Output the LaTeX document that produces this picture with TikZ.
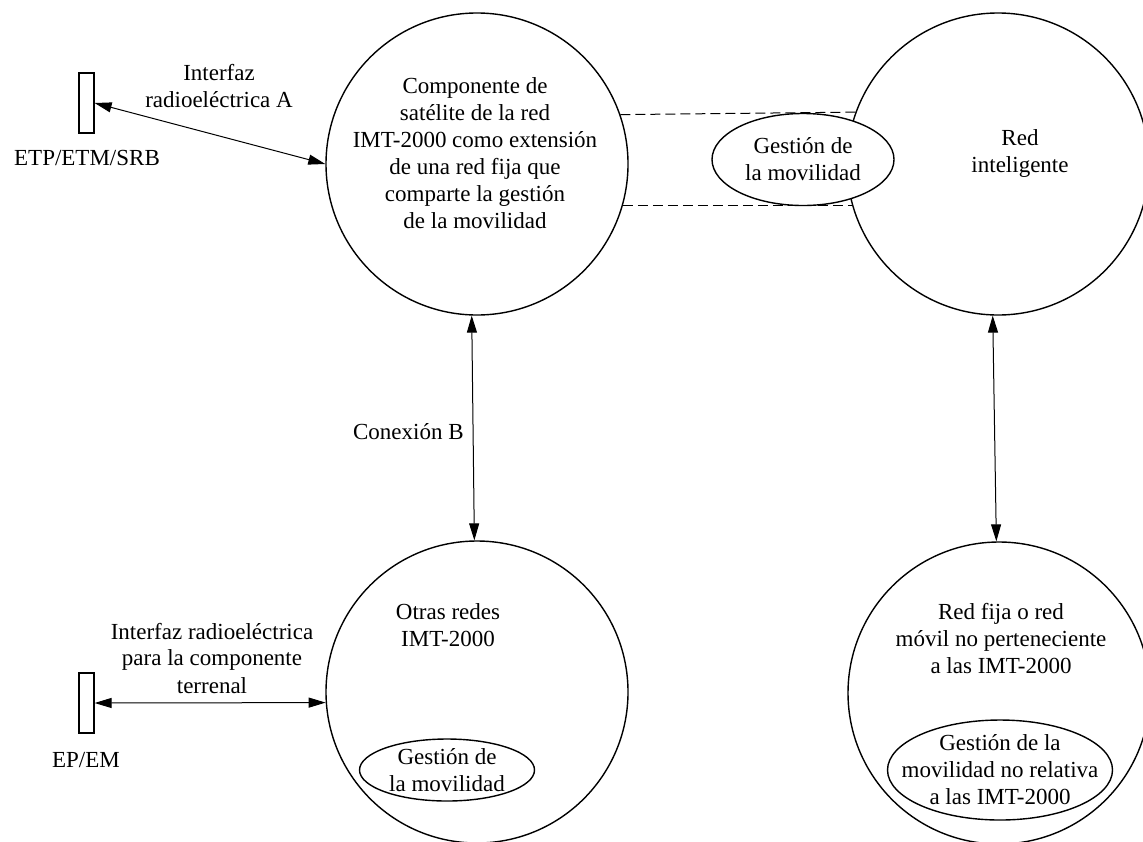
\documentclass[tikz,border=0pt]{standalone}
\usepackage{fontspec}
\setmainfont{Liberation Serif}
\usetikzlibrary{arrows.meta,shapes.geometric}
\begin{document}
\begin{tikzpicture}[x=0.5pt,y=-0.5pt,
  txt/.style={align=center, font=\fontsize{11.5}{13.5}\selectfont, inner sep=0pt},
  bigc/.style={draw, circle, minimum size=151pt, line width=0.7pt, inner sep=0pt},
  ell/.style={draw, ellipse, fill=white, line width=0.7pt, inner sep=0pt},
  term/.style={draw, rectangle, minimum width=7.5pt, minimum height=30pt, line width=0.6pt, inner sep=0pt},
  link/.style={{Triangle[length=8.5pt,width=5pt]}-{Triangle[length=8.5pt,width=5pt]}, line width=0.5pt},
  dashline/.style={dash pattern=on 5pt off 2.5pt, line width=0.5pt}
  ]
\useasboundingbox (0,0) rectangle (1143,841);
\clip (0,0) rectangle (1143,841);
% circles
\node[bigc] (c1) at (477,164) {};
\node[bigc] (c2) at (998,164) {};
\node[bigc] (c3) at (477,692) {};
\node[bigc] (c4) at (999,693) {};
% dashed links
\draw[dashline] (c1.19.7) -- (c2.160.3);
\draw[dashline] (c1.-16.2) -- (c2.196.2);
% ellipses (white filled, over the circles)
\node[ell, minimum width=91pt, minimum height=46pt] (e1) at (803,159.5) {};
\node[ell, minimum width=87.5pt, minimum height=31pt] (e3) at (447,770) {};
\node[ell, minimum width=112.5pt, minimum height=50pt] (e4) at (1000,770) {};
% texts in circles and ellipses
\node[txt] (t1) at (475,153) {Componente de\\satélite de la red\\IMT-2000 como extensión\\de una red fija que\\comparte la gestión\\de la movilidad};
\node[txt] (t2) at (1020,153) {Red\\inteligente};
\node[txt] (t3) at (448,625) {Otras redes\\IMT-2000};
\node[txt] (t4) at (1001,638) {Red fija o red\\móvil no perteneciente\\a las IMT-2000};
\node[txt] (g1) at (e1) {Gestión de\\la movilidad};
\node[txt] (g3) at (e3) {Gestión de\\la movilidad};
\node[txt] (g4) at (e4) {Gestión de la\\movilidad no relativa\\a las IMT-2000};
% terminals
\node[term] (b1) at (86.5,103) {};
\node[term] (b2) at (86.5,703) {};
\node[txt] (l1) at (87,158) {ETP/ETM/SRB};
\node[txt] (l2) at (86,760) {EP/EM};
% links
\draw[link] (b1.east) -- (c1.west);
\draw[link] (b2.east) -- (c3.184.2);
\draw[link] (c1.268.5) -- (c3.91.5);
\draw[link] (c2.268.5) -- (c4.91.5);
% link labels
\node[txt] (la) at (219,86) {Interfaz\\radioeléctrica A};
\node[txt] (lb) at (212,658) {Interfaz radioeléctrica\\para la componente\\terrenal};
\node[txt, anchor=east] (lc) at (464,432) {Conexión B};
\end{tikzpicture}
\end{document}
